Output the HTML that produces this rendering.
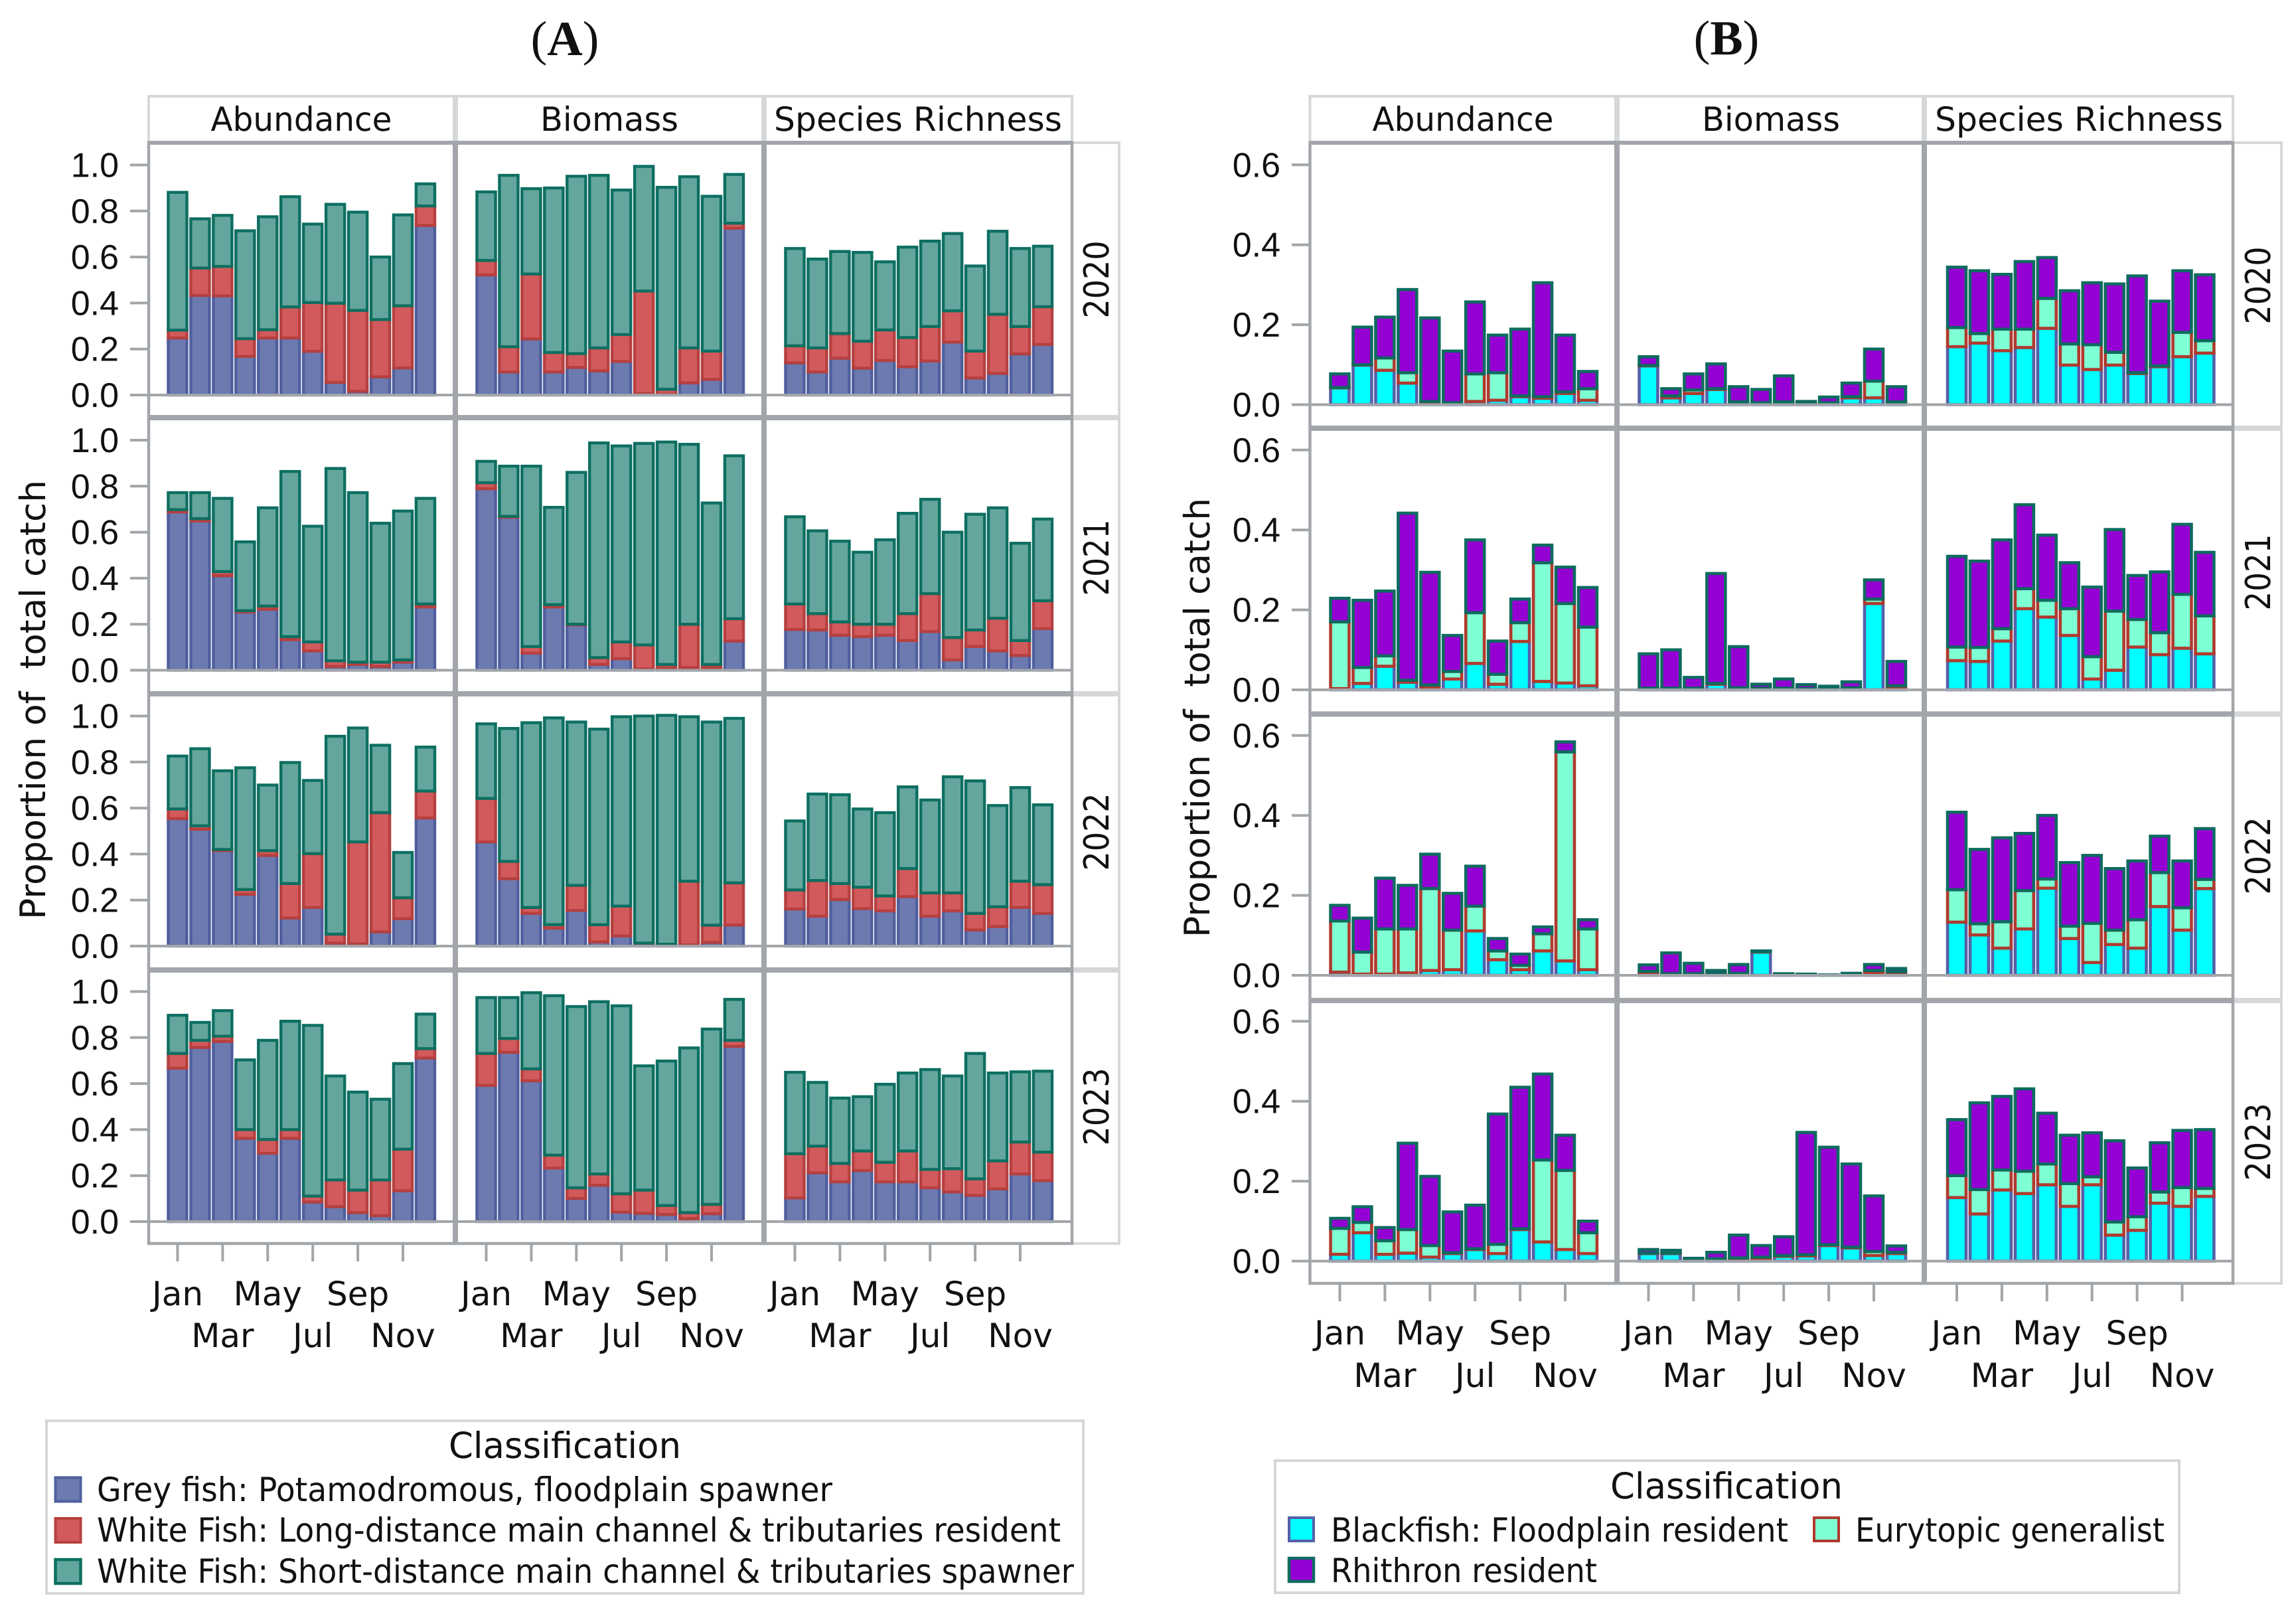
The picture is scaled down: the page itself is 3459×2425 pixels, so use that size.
<!DOCTYPE html>
<html lang="en">
<head>
<meta charset="utf-8">
<title>Proportion of total catch by classification</title>
<style>
html,body{margin:0;padding:0;background:#fff;width:3459px;height:2425px;overflow:hidden}
svg{display:block}
text{font-family:"DejaVu Sans","Liberation Sans",sans-serif;fill:#111;text-rendering:geometricPrecision}
.ttl{font-family:"Liberation Serif",serif;font-size:74px}
.strip{font-size:50px;text-anchor:middle}
.yr{font-size:52px;text-anchor:middle}
.ax{font-size:53px;text-anchor:middle}
.lgt{font-size:54px;text-anchor:middle}
.lg{font-size:50px}
</style>
</head>
<body>
<svg id="chart" xmlns="http://www.w3.org/2000/svg" width="3459" height="2425" viewBox="0 0 3459 2425">
<rect x="0" y="0" width="3459" height="2425" fill="#fff"/>
<g id="marks"></g>

<text class="ttl" x="851" y="83" text-anchor="middle">(<tspan font-weight="bold">A</tspan>)</text>
<text class="ttl" x="2601" y="82" text-anchor="middle">(<tspan font-weight="bold">B</tspan>)</text>

<text class="strip" x="454" y="197" textLength="273" lengthAdjust="spacingAndGlyphs">Abundance</text>
<text class="strip" x="918" y="197" textLength="208" lengthAdjust="spacingAndGlyphs">Biomass</text>
<text class="strip" x="1383" y="197" textLength="434" lengthAdjust="spacingAndGlyphs">Species Richness</text>
<text class="strip" x="2204" y="197" textLength="273" lengthAdjust="spacingAndGlyphs">Abundance</text>
<text class="strip" x="2668" y="197" textLength="208" lengthAdjust="spacingAndGlyphs">Biomass</text>
<text class="strip" x="3132" y="197" textLength="434" lengthAdjust="spacingAndGlyphs">Species Richness</text>

<text class="ax" transform="translate(68,1054) rotate(-90)" textLength="662" lengthAdjust="spacingAndGlyphs" xml:space="preserve">Proportion of  total catch</text>
<text class="ax" transform="translate(1822,1081) rotate(-90)" textLength="662" lengthAdjust="spacingAndGlyphs" xml:space="preserve">Proportion of  total catch</text>

<text class="yr" transform="translate(1670,421) rotate(-90)" textLength="117" lengthAdjust="spacingAndGlyphs">2020</text>
<text class="yr" transform="translate(1670,840) rotate(-90)" textLength="115" lengthAdjust="spacingAndGlyphs">2021</text>
<text class="yr" transform="translate(1670,1253) rotate(-90)" textLength="117" lengthAdjust="spacingAndGlyphs">2022</text>
<text class="yr" transform="translate(1670,1667) rotate(-90)" textLength="117" lengthAdjust="spacingAndGlyphs">2023</text>
<text class="yr" transform="translate(3420,430) rotate(-90)" textLength="117" lengthAdjust="spacingAndGlyphs">2020</text>
<text class="yr" transform="translate(3420,862) rotate(-90)" textLength="115" lengthAdjust="spacingAndGlyphs">2021</text>
<text class="yr" transform="translate(3420,1289) rotate(-90)" textLength="117" lengthAdjust="spacingAndGlyphs">2022</text>
<text class="yr" transform="translate(3420,1720) rotate(-90)" textLength="117" lengthAdjust="spacingAndGlyphs">2023</text>

<g>
<rect x="70" y="2140" width="1562" height="260" fill="#fff" stroke="#d5d6d7" stroke-width="4"/>
<text class="lgt" x="851" y="2196" textLength="350" lengthAdjust="spacingAndGlyphs">Classification</text>
<rect x="83.5" y="2225.5" width="38" height="36" fill="#6d7ab0" stroke="#4f5f9e" stroke-width="4"/>
<text class="lg" x="146" y="2261" textLength="1108" lengthAdjust="spacingAndGlyphs">Grey fish: Potamodromous, floodplain spawner</text>
<rect x="83.5" y="2287" width="38" height="36" fill="#d25a5c" stroke="#b5403f" stroke-width="4"/>
<text class="lg" x="146" y="2322" textLength="1452" lengthAdjust="spacingAndGlyphs">White Fish: Long-distance main channel &amp; tributaries resident</text>
<rect x="83.5" y="2349" width="38" height="36" fill="#62a79d" stroke="#0d6f61" stroke-width="4.5"/>
<text class="lg" x="146" y="2384" textLength="1472" lengthAdjust="spacingAndGlyphs">White Fish: Short-distance main channel &amp; tributaries spawner</text>
</g>

<g>
<rect x="1921" y="2200" width="1362" height="199" fill="#fff" stroke="#d5d6d7" stroke-width="4"/>
<text class="lgt" x="2601" y="2257" textLength="350" lengthAdjust="spacingAndGlyphs">Classification</text>
<rect x="1942" y="2286" width="37" height="35" fill="#00ffff" stroke="#5560a8" stroke-width="4"/>
<text class="lg" x="2005" y="2322" textLength="689" lengthAdjust="spacingAndGlyphs">Blackfish: Floodplain resident</text>
<rect x="2733" y="2286" width="37" height="35" fill="#7fffd4" stroke="#b03a2e" stroke-width="4"/>
<text class="lg" x="2795" y="2322" textLength="466" lengthAdjust="spacingAndGlyphs">Eurytopic generalist</text>
<rect x="1942" y="2347" width="37" height="35" fill="#9400d3" stroke="#0d6b5f" stroke-width="4.5"/>
<text class="lg" x="2005" y="2383" textLength="401" lengthAdjust="spacingAndGlyphs">Rhithron resident</text>
</g>
</svg>

<script>
// Category and tick data
const months = ['Jan','Feb','Mar','Apr','May','Jun','Jul','Aug','Sep','Oct','Nov','Dec'];
const xTickMonths = ['Jan','Mar','May','Jul','Sep','Nov'];
const yTicksA = ['0.0','0.2','0.4','0.6','0.8','1.0'];
const yTicksB = ['0.0','0.2','0.4','0.6'];

// Figure A: stacked top of each series for each month (grey, then grey+red, then grey+red+teal)
const A_Abundance_2020_grey=[.248,.433,.431,.168,.248,.248,.19,.055,.016,.079,.118,.737];
const A_Abundance_2020_red=[.282,.552,.559,.245,.284,.383,.402,.399,.368,.328,.388,.822];
const A_Abundance_2020_teal=[.881,.766,.781,.714,.775,.862,.743,.829,.795,.60,.783,.918];
const A_Biomass_2020_grey=[.522,.10,.244,.10,.12,.105,.146,.006,.003,.053,.068,.725];
const A_Biomass_2020_red=[.585,.21,.526,.185,.18,.205,.263,.452,.025,.205,.191,.747];
const A_Biomass_2020_teal=[.883,.955,.897,.90,.951,.955,.891,.994,.903,.949,.864,.959];
const A_Richness_2020_grey=[.14,.10,.16,.117,.15,.123,.148,.23,.074,.094,.179,.22];
const A_Richness_2020_red=[.214,.205,.267,.234,.283,.25,.298,.366,.191,.351,.298,.384];
const A_Richness_2020_teal=[.637,.591,.624,.62,.579,.643,.669,.702,.561,.712,.637,.647];

const A_Abundance_2021_grey=[.688,.649,.411,.253,.265,.133,.084,.016,.025,.016,.035,.275];
const A_Abundance_2021_red=[.698,.659,.429,.259,.279,.146,.123,.041,.035,.035,.045,.288];
const A_Abundance_2021_teal=[.772,.772,.747,.558,.706,.864,.626,.877,.772,.639,.692,.747];
const A_Biomass_2021_grey=[.789,.665,.074,.275,.197,.025,.05,.006,.01,.012,.012,.127];
const A_Biomass_2021_red=[.815,.669,.103,.285,.20,.055,.123,.11,.025,.20,.025,.224];
const A_Biomass_2021_teal=[.908,.887,.887,.708,.86,.988,.975,.986,.992,.982,.727,.932];
const A_Richness_2021_grey=[.177,.175,.152,.146,.152,.129,.168,.045,.103,.084,.064,.181];
const A_Richness_2021_red=[.288,.246,.21,.20,.20,.246,.333,.142,.175,.226,.129,.302];
const A_Richness_2021_teal=[.667,.606,.561,.513,.567,.682,.743,.60,.678,.706,.552,.657];

const A_Abundance_2022_grey=[.554,.508,.415,.225,.394,.122,.168,.013,.01,.062,.119,.557];
const A_Abundance_2022_red=[.596,.523,.42,.246,.415,.272,.402,.052,.453,.58,.21,.674];
const A_Abundance_2022_teal=[.826,.858,.762,.775,.70,.798,.72,.912,.948,.873,.407,.865];
const A_Biomass_2022_grey=[.453,.293,.142,.078,.155,.018,.044,.01,.005,.005,.016,.091];
const A_Biomass_2022_red=[.642,.368,.168,.093,.264,.093,.174,.013,.008,.282,.091,.275];
const A_Biomass_2022_teal=[.966,.946,.971,.992,.974,.943,.997,1.0,1.003,.997,.974,.99];
const A_Richness_2022_grey=[.161,.13,.202,.163,.153,.215,.13,.153,.07,.085,.168,.142];
const A_Richness_2022_red=[.244,.285,.272,.256,.218,.337,.231,.231,.142,.171,.282,.267];
const A_Richness_2022_teal=[.544,.661,.658,.596,.58,.692,.635,.736,.718,.611,.689,.614];

const A_Abundance_2023_grey=[.667,.757,.783,.362,.297,.362,.085,.065,.039,.026,.134,.711];
const A_Abundance_2023_red=[.731,.788,.806,.40,.357,.40,.111,.181,.137,.181,.315,.752];
const A_Abundance_2023_teal=[.897,.866,.917,.703,.788,.871,.853,.633,.563,.532,.687,.902];
const A_Biomass_2023_grey=[.592,.736,.612,.233,.101,.158,.041,.036,.031,.013,.034,.762];
const A_Biomass_2023_red=[.731,.796,.664,.289,.147,.207,.121,.137,.07,.039,.075,.788];
const A_Biomass_2023_teal=[.974,.974,.995,.982,.935,.956,.938,.677,.698,.755,.837,.966];
const A_Richness_2023_grey=[.103,.212,.173,.222,.173,.173,.147,.129,.114,.142,.207,.178];
const A_Richness_2023_red=[.295,.328,.253,.307,.258,.307,.227,.23,.186,.264,.346,.302];
const A_Richness_2023_teal=[.649,.605,.537,.543,.597,.646,.661,.633,.731,.646,.651,.654];

// Figure B: stacked top of each series for each month (cyan, then cyan+aqua, then cyan+aqua+purple)
const B_Abundance_2020_cyan=[.042,.099,.086,.054,.005,.003,.008,.011,.02,.016,.028,.011];
const B_Abundance_2020_aqua=[.043,.10,.117,.08,.008,.005,.077,.08,.022,.02,.032,.04];
const B_Abundance_2020_purple=[.077,.194,.219,.288,.217,.134,.257,.174,.189,.305,.174,.083];
const B_Biomass_2020_cyan=[.097,.017,.028,.038,.004,.003,.004,.002,.002,.017,.017,.004];
const B_Biomass_2020_aqua=[.098,.022,.037,.04,.007,.005,.007,.003,.005,.02,.059,.007];
const B_Biomass_2020_purple=[.12,.04,.077,.102,.045,.038,.072,.008,.019,.054,.139,.045];
const B_Richness_2020_cyan=[.145,.154,.135,.143,.191,.099,.088,.099,.078,.095,.12,.129];
const B_Richness_2020_aqua=[.193,.178,.189,.189,.266,.152,.15,.131,.08,.097,.181,.16];
const B_Richness_2020_purple=[.344,.335,.326,.358,.368,.285,.305,.302,.322,.259,.335,.325];

const B_Abundance_2021_cyan=[.003,.016,.059,.019,.007,.027,.066,.014,.121,.021,.017,.01];
const B_Abundance_2021_aqua=[.17,.056,.085,.024,.012,.046,.193,.039,.168,.318,.216,.157];
const B_Abundance_2021_purple=[.229,.224,.247,.442,.294,.136,.375,.122,.227,.362,.307,.256];
const B_Biomass_2021_cyan=[.002,.002,.002,.014,.003,.002,.002,.002,.002,.003,.216,.003];
const B_Biomass_2021_aqua=[.004,.004,.004,.016,.005,.004,.004,.003,.003,.005,.227,.01];
const B_Biomass_2021_purple=[.09,.10,.031,.291,.108,.014,.027,.013,.009,.02,.275,.071];
const B_Richness_2021_cyan=[.073,.071,.122,.203,.182,.136,.027,.049,.107,.088,.104,.09];
const B_Richness_2021_aqua=[.107,.106,.153,.253,.224,.203,.083,.197,.176,.143,.239,.185];
const B_Richness_2021_purple=[.334,.322,.375,.463,.387,.318,.257,.401,.286,.295,.414,.344];

const B_Abundance_2022_cyan=[.008,.003,.003,.006,.012,.014,.111,.039,.014,.061,.036,.014];
const B_Abundance_2022_aqua=[.136,.058,.116,.116,.217,.113,.173,.061,.025,.104,.559,.116];
const B_Abundance_2022_purple=[.175,.143,.243,.225,.303,.205,.273,.092,.053,.121,.584,.139];
const B_Biomass_2022_cyan=[.004,.002,.002,.002,.002,.058,.001,.001,.0,.001,.005,.007];
const B_Biomass_2022_aqua=[.01,.004,.004,.004,.005,.059,.002,.002,.0,.002,.012,.009];
const B_Biomass_2022_purple=[.026,.056,.03,.012,.027,.061,.004,.003,.001,.005,.027,.017];
const B_Richness_2022_cyan=[.133,.101,.068,.116,.218,.092,.032,.077,.068,.172,.113,.217];
const B_Richness_2022_aqua=[.214,.129,.134,.212,.241,.123,.13,.113,.139,.257,.169,.24];
const B_Richness_2022_purple=[.408,.315,.344,.355,.40,.282,.30,.267,.286,.348,.286,.367];

const B_Abundance_2023_cyan=[.017,.071,.017,.02,.01,.019,.029,.019,.079,.048,.029,.019];
const B_Abundance_2023_aqua=[.082,.097,.051,.079,.039,.021,.031,.042,.081,.253,.227,.071];
const B_Abundance_2023_purple=[.107,.136,.084,.295,.212,.123,.14,.368,.435,.468,.315,.10];
const B_Biomass_2023_cyan=[.019,.019,.002,.004,.006,.006,.012,.013,.039,.033,.014,.019];
const B_Biomass_2023_aqua=[.02,.02,.003,.006,.008,.01,.014,.016,.041,.035,.024,.022];
const B_Biomass_2023_purple=[.029,.027,.007,.022,.065,.039,.061,.322,.285,.243,.163,.038];
const B_Richness_2023_cyan=[.159,.118,.178,.169,.191,.137,.191,.065,.077,.145,.137,.162];
const B_Richness_2023_aqua=[.214,.179,.228,.225,.243,.194,.211,.098,.111,.173,.184,.182];
const B_Richness_2023_purple=[.354,.396,.412,.431,.37,.315,.321,.301,.233,.296,.327,.329];

// Lookup of panels: figure -> row (year) -> column (metric) -> series arrays
const seriesA = [
 [[A_Abundance_2020_grey,A_Abundance_2020_red,A_Abundance_2020_teal],[A_Biomass_2020_grey,A_Biomass_2020_red,A_Biomass_2020_teal],[A_Richness_2020_grey,A_Richness_2020_red,A_Richness_2020_teal]],
 [[A_Abundance_2021_grey,A_Abundance_2021_red,A_Abundance_2021_teal],[A_Biomass_2021_grey,A_Biomass_2021_red,A_Biomass_2021_teal],[A_Richness_2021_grey,A_Richness_2021_red,A_Richness_2021_teal]],
 [[A_Abundance_2022_grey,A_Abundance_2022_red,A_Abundance_2022_teal],[A_Biomass_2022_grey,A_Biomass_2022_red,A_Biomass_2022_teal],[A_Richness_2022_grey,A_Richness_2022_red,A_Richness_2022_teal]],
 [[A_Abundance_2023_grey,A_Abundance_2023_red,A_Abundance_2023_teal],[A_Biomass_2023_grey,A_Biomass_2023_red,A_Biomass_2023_teal],[A_Richness_2023_grey,A_Richness_2023_red,A_Richness_2023_teal]]
];
const seriesB = [
 [[B_Abundance_2020_cyan,B_Abundance_2020_aqua,B_Abundance_2020_purple],[B_Biomass_2020_cyan,B_Biomass_2020_aqua,B_Biomass_2020_purple],[B_Richness_2020_cyan,B_Richness_2020_aqua,B_Richness_2020_purple]],
 [[B_Abundance_2021_cyan,B_Abundance_2021_aqua,B_Abundance_2021_purple],[B_Biomass_2021_cyan,B_Biomass_2021_aqua,B_Biomass_2021_purple],[B_Richness_2021_cyan,B_Richness_2021_aqua,B_Richness_2021_purple]],
 [[B_Abundance_2022_cyan,B_Abundance_2022_aqua,B_Abundance_2022_purple],[B_Biomass_2022_cyan,B_Biomass_2022_aqua,B_Biomass_2022_purple],[B_Richness_2022_cyan,B_Richness_2022_aqua,B_Richness_2022_purple]],
 [[B_Abundance_2023_cyan,B_Abundance_2023_aqua,B_Abundance_2023_purple],[B_Biomass_2023_cyan,B_Biomass_2023_aqua,B_Biomass_2023_purple],[B_Richness_2023_cyan,B_Richness_2023_aqua,B_Richness_2023_purple]]
];

const NS = 'http://www.w3.org/2000/svg';
const root = document.getElementById('marks');
const GREY = '#a2a6aa';
const LIGHT = '#d5d7d8';

function mk(parent, tag, attrs) {
  const el = document.createElementNS(NS, tag);
  for (const k in attrs) el.setAttribute(k, attrs[k]);
  parent.appendChild(el);
  return el;
}

function drawFigure(fig) {
  const g = mk(root, 'g', {});
  
  

  const xOf = (col, i) => fig.firstCx[col] + i * fig.pitch;
  const yOf = (row, v) => fig.zeroY[row] - v * fig.unit;

  // header strips and right-hand year strip
  const strip = mk(g, 'rect', {x: fig.vx[0], y: fig.stripTop, width: fig.vx[3] - fig.vx[0], height: fig.hy[0] - fig.stripTop, fill: '#fff', stroke: LIGHT, 'stroke-width': 4});
  
  
  const side = mk(g, 'rect', {x: fig.vx[3], y: fig.hy[0], width: fig.sideRight - fig.vx[3], height: fig.hy[4] - fig.hy[0], fill: '#fff', stroke: LIGHT, 'stroke-width': 4});
  
  
  [1, 2].forEach(c => {
    const s = mk(g, 'line', {x1: fig.vx[c], x2: fig.vx[c], y1: fig.stripTop, y2: fig.hy[0], stroke: LIGHT, 'stroke-width': 8});
    
    
  });
  [1, 2, 3].forEach(r => {
    const s = mk(g, 'line', {x1: fig.vx[3], x2: fig.sideRight, y1: fig.hy[r], y2: fig.hy[r], stroke: LIGHT, 'stroke-width': 8});
    
    
  });

  // bars
  fig.series.forEach((rowSeries, r) => {
    rowSeries.forEach((cols, c) => {
      const pg = mk(g, 'g', {});
      
      
      months.forEach((m, i) => {
        cols.forEach((arr, s) => {
          const top = arr[i];
          const prev = s === 0 ? 0 : cols[s - 1][i];
          const cx = xOf(c, i);
          const y1 = yOf(r, top);
          const y0 = yOf(r, prev);
          const bar = mk(pg, 'rect', {
            x: cx - fig.barW / 2 + fig.sw / 2,
            y: y1,
            width: fig.barW - fig.sw,
            height: Math.max(0, y0 - y1),
            fill: fig.fills[s],
            stroke: fig.strokes[s],
            'stroke-width': fig.sw
          });
          
          
        });
      });
      // zero line
      const z = mk(pg, 'line', {x1: fig.vx[c], x2: fig.vx[c + 1], y1: fig.zeroY[r], y2: fig.zeroY[r], stroke: GREY, 'stroke-width': 4});
      
      
    });
  });

  // frame
  const frame = mk(g, 'rect', {x: fig.vx[0], y: fig.hy[0], width: fig.vx[3] - fig.vx[0], height: fig.hy[4] - fig.hy[0], fill: 'none', stroke: GREY, 'stroke-width': 4.5});
  
  
  [1, 2].forEach(c => {
    const l = mk(g, 'line', {x1: fig.vx[c], x2: fig.vx[c], y1: fig.hy[0], y2: fig.hy[4], stroke: GREY, 'stroke-width': 8});
    
    
  });
  [0, 1, 2, 3].forEach(r => {
    const l = mk(g, 'line', {x1: fig.vx[0], x2: fig.vx[3], y1: fig.hy[r], y2: fig.hy[r], stroke: GREY, 'stroke-width': r === 0 ? 6 : 8});
    
    
  });

  // y axes
  fig.zeroY.forEach((z, r) => {
    fig.yTicks.forEach(label => {
      const y = yOf(r, parseFloat(label));
      const t = mk(g, 'line', {x1: fig.tickX, x2: fig.vx[0], y1: y, y2: y, stroke: GREY, 'stroke-width': 4});
      
      
      const tx = mk(g, 'text', {x: fig.labelX, y: y + 18, 'text-anchor': 'end', 'font-size': 52});
      tx.style.fontFamily = '"Liberation Sans", sans-serif';
      
      
      tx.textContent = label;
    });
  });

  // x axes
  [0, 1, 2].forEach(c => {
    xTickMonths.forEach((label, k) => {
      const x = xOf(c, months.indexOf(label));
      const t = mk(g, 'line', {x1: x, x2: x, y1: fig.hy[4], y2: fig.hy[4] + 27, stroke: GREY, 'stroke-width': 4});
      
      
      const tx = mk(g, 'text', {x: x, y: k % 2 === 0 ? fig.xBase1 : fig.xBase2, 'text-anchor': 'middle', 'font-size': 50});
      
      
      tx.textContent = label;
    });
  });
}

drawFigure({
  id: 'a', series: seriesA, yTicks: yTicksA,
  names: ['grey', 'red', 'teal'],
  fills: ['#6d7ab0', '#d25a5c', '#64a69d'],
  strokes: ['#4f5f9e', '#b5403f', '#0d6f61'],
  firstCx: [267.5, 732.5, 1197.5], pitch: 33.95, barW: 32.5, sw: 4.4,
  zeroY: [595, 1009.5, 1425, 1840], unit: 346.5,
  vx: [224, 686, 1151, 1615], hy: [215, 629, 1045, 1461, 1873],
  stripTop: 145, sideRight: 1686, tickX: 196, labelX: 179,
  xBase1: 1966, xBase2: 2029
});
drawFigure({
  id: 'b', series: seriesB, yTicks: yTicksB,
  names: ['cyan', 'aqua', 'purple'],
  fills: ['#00ffff', '#7fffd4', '#9400d3'],
  strokes: ['#5560a8', '#b03a2e', '#0d6b5f'],
  firstCx: [2018.5, 2483.5, 2948], pitch: 33.95, barW: 32.5, sw: 4.6,
  zeroY: [609.5, 1039, 1469, 1899.5], unit: 602,
  vx: [1973.5, 2436, 2899, 3364], hy: [215, 645, 1075.5, 1507, 1933],
  stripTop: 145, sideRight: 3437, tickX: 1946, labelX: 1929,
  xBase1: 2025, xBase2: 2089
});
</script>
</body>
</html>
